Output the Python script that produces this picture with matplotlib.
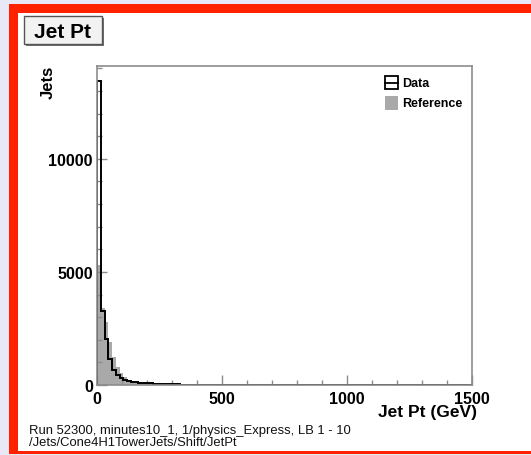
import numpy as np
import matplotlib
matplotlib.use("Agg")
from matplotlib import pyplot as plt
from matplotlib.patches import Rectangle
from matplotlib.ticker import MultipleLocator

# jet pt histogram, 100 bins of 15 GeV from 0 to 1500
N_BINS = 100
PT_MAX = 1500
data_counts = [13450, 3250, 2050, 1150, 650, 420, 300, 220, 170, 140, 120, 110,
               95, 85, 75, 65, 55, 48, 40, 35, 30, 26, 22, 18, 15, 12, 10, 8,
               6, 5, 4, 3, 2, 2, 1, 1]
ref_counts = [5300, 3400, 2800, 1900, 1250, 800, 520, 340, 240, 180, 150, 130,
              115, 100, 90, 80, 70, 60, 52, 45, 38, 32, 27, 22, 18, 15, 12, 10,
              8, 6, 5, 4, 3, 2, 2, 1]
x_ticks = [0, 500, 1000, 1500]
y_ticks = [0, 5000, 10000]
run_info = "Run 52300, minutes10_1, 1/physics_Express, LB 1 - 10"
hist_path = "/Jets/Cone4H1TowerJets/Shift/JetPt"

W, H = 531, 456
plt.rcParams['font.family'] = ['Liberation Sans', 'DejaVu Sans']

def pix(x, y):
    return x / W, 1 - y / H

edges = np.linspace(0, PT_MAX, N_BINS + 1)
data = np.zeros(N_BINS)
data[:len(data_counts)] = data_counts
ref = np.zeros(N_BINS)
ref[:len(ref_counts)] = ref_counts

fig = plt.figure(figsize=(W / 100, H / 100), dpi=100, facecolor='#e8e8f6')

# red status frame with white canvas inside
fig.patches.append(Rectangle(pix(9, 455), 540 / W, 450 / H, transform=fig.transFigure,
                             facecolor='#ff2200', edgecolor='none', zorder=0))
fig.patches.append(Rectangle(pix(18, 452), 540 / W, 438 / H, transform=fig.transFigure,
                             facecolor='white', edgecolor='none', zorder=0))

l, b = pix(97, 386)
r, t = pix(472, 67)
ax = fig.add_axes([l, b, r - l, t - b])
ax.set_zorder(5)
ax.set_facecolor('white')
ax.stairs(ref, edges, fill=True, color='#a9a9a9', zorder=1)
ax.stairs(data, edges, color='black', linewidth=1.4, zorder=2)
ax.set_xlim(0, PT_MAX)
ax.set_ylim(0, 14100)

for s in ax.spines.values():
    s.set_color('#8c8c8c')
    s.set_linewidth(1.2)
ax.set_xticks(x_ticks)
ax.set_yticks(y_ticks)
ax.xaxis.set_minor_locator(MultipleLocator(100))
ax.yaxis.set_minor_locator(MultipleLocator(1000))
ax.tick_params(which='both', direction='in', color='#8c8c8c', width=1,
               top=False, right=False)
ax.tick_params(which='major', length=7, labelsize=11.5)
ax.tick_params(which='minor', length=3.5)
ax.tick_params(axis='x', pad=4)
ax.tick_params(axis='y', pad=3)
for lab in ax.get_xticklabels() + ax.get_yticklabels():
    lab.set_fontweight('bold')

# axis titles
fig.text(*pix(477, 413), "Jet Pt (GeV)", ha='right', va='center',
         fontsize=12.5, fontweight='bold', zorder=6)
fig.text(*pix(48, 66), "Jets", ha='center', va='top', rotation=90,
         fontsize=12, fontweight='bold', zorder=6)

# title box
fig.patches.append(Rectangle(pix(26, 47), 78 / W, 28 / H, transform=fig.transFigure,
                             facecolor='#707070', edgecolor='none', zorder=1))
fig.patches.append(Rectangle(pix(24, 45), 78 / W, 28 / H, transform=fig.transFigure,
                             facecolor='#f2f2f2', edgecolor='#555555', linewidth=1, zorder=2))
fig.text(*pix(63, 32), "Jet Pt", ha='center', va='center',
         fontsize=15, fontweight='bold', zorder=3)

# legend
fig.patches.append(Rectangle(pix(385, 90), 13 / W, 13 / H, transform=fig.transFigure,
                             facecolor='white', edgecolor='black', linewidth=1.3, zorder=7))
fig.lines.append(plt.Line2D([385 / W, 398 / W], [1 - 83.5 / H, 1 - 83.5 / H],
                            transform=fig.transFigure, color='black', linewidth=1.3,
                            zorder=8))
fig.text(*pix(402, 84), "Data", ha='left', va='center', fontsize=9,
         fontweight='bold', zorder=8)
fig.patches.append(Rectangle(pix(385, 111), 13 / W, 14 / H, transform=fig.transFigure,
                             facecolor='#a9a9a9', edgecolor='none', zorder=7))
fig.text(*pix(402, 104), "Reference", ha='left', va='center', fontsize=9,
         fontweight='bold', zorder=8)

# run info footer
fig.text(*pix(29, 431), run_info, ha='left', va='center', fontsize=9.4, color='#111111')
fig.text(*pix(29, 443), hist_path, ha='left', va='center', fontsize=9.4, color='#111111')

fig.savefig('out.png', dpi=100, facecolor=fig.get_facecolor())
